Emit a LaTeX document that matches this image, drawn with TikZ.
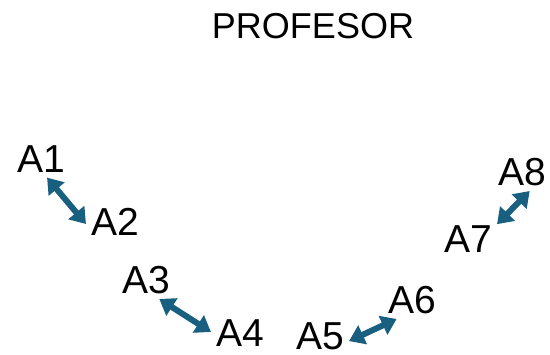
\documentclass[tikz,border=0pt]{standalone}
\usepackage{fontspec}
\setmainfont{Liberation Sans}
\usetikzlibrary{arrows.meta}
\definecolor{bleu}{RGB}{24,95,128}
\begin{document}
\begin{tikzpicture}[x=1pt,y=-1pt]
		% Styles
		\tikzstyle{fleche}=[{Triangle[width=20pt,length=15pt]}-{Triangle[width=20pt,length=15pt]},line width=6pt,bleu]
		\tikzstyle{eleve}=[inner sep=5pt,font=\fontsize{39}{40}\selectfont]
		\tikzstyle{titre}=[inner sep=0pt,font=\fontsize{36}{40}\selectfont]
		% Cadre
		\useasboundingbox (0,0) rectangle (550,355);
		% Noeuds
		\node[titre] (prof) at (313,26) {PROFESOR};
		%
		\node[eleve] (A1) at (41,159) {A1};
		\node[eleve] (A2) at (115,222) {A2};
		\node[eleve] (A3) at (146,280) {A3};
		\node[eleve] (A4) at (240,333) {A4};
		\node[eleve] (A5) at (320,336) {A5};
		\node[eleve] (A6) at (412,300) {A6};
		\node[eleve] (A7) at (468,239) {A7};
		\node[eleve] (A8) at (522,172) {A8};
		% Fleches
		\draw[fleche] (A1.-72)--(A2.184);
		\draw[fleche] (A3.-55)--(A4.178);
		\draw[fleche] (A5.-10)--(A6.-129);
		\draw[fleche] (A7.27)--(A8.-68);
	\end{tikzpicture}
\end{document}
